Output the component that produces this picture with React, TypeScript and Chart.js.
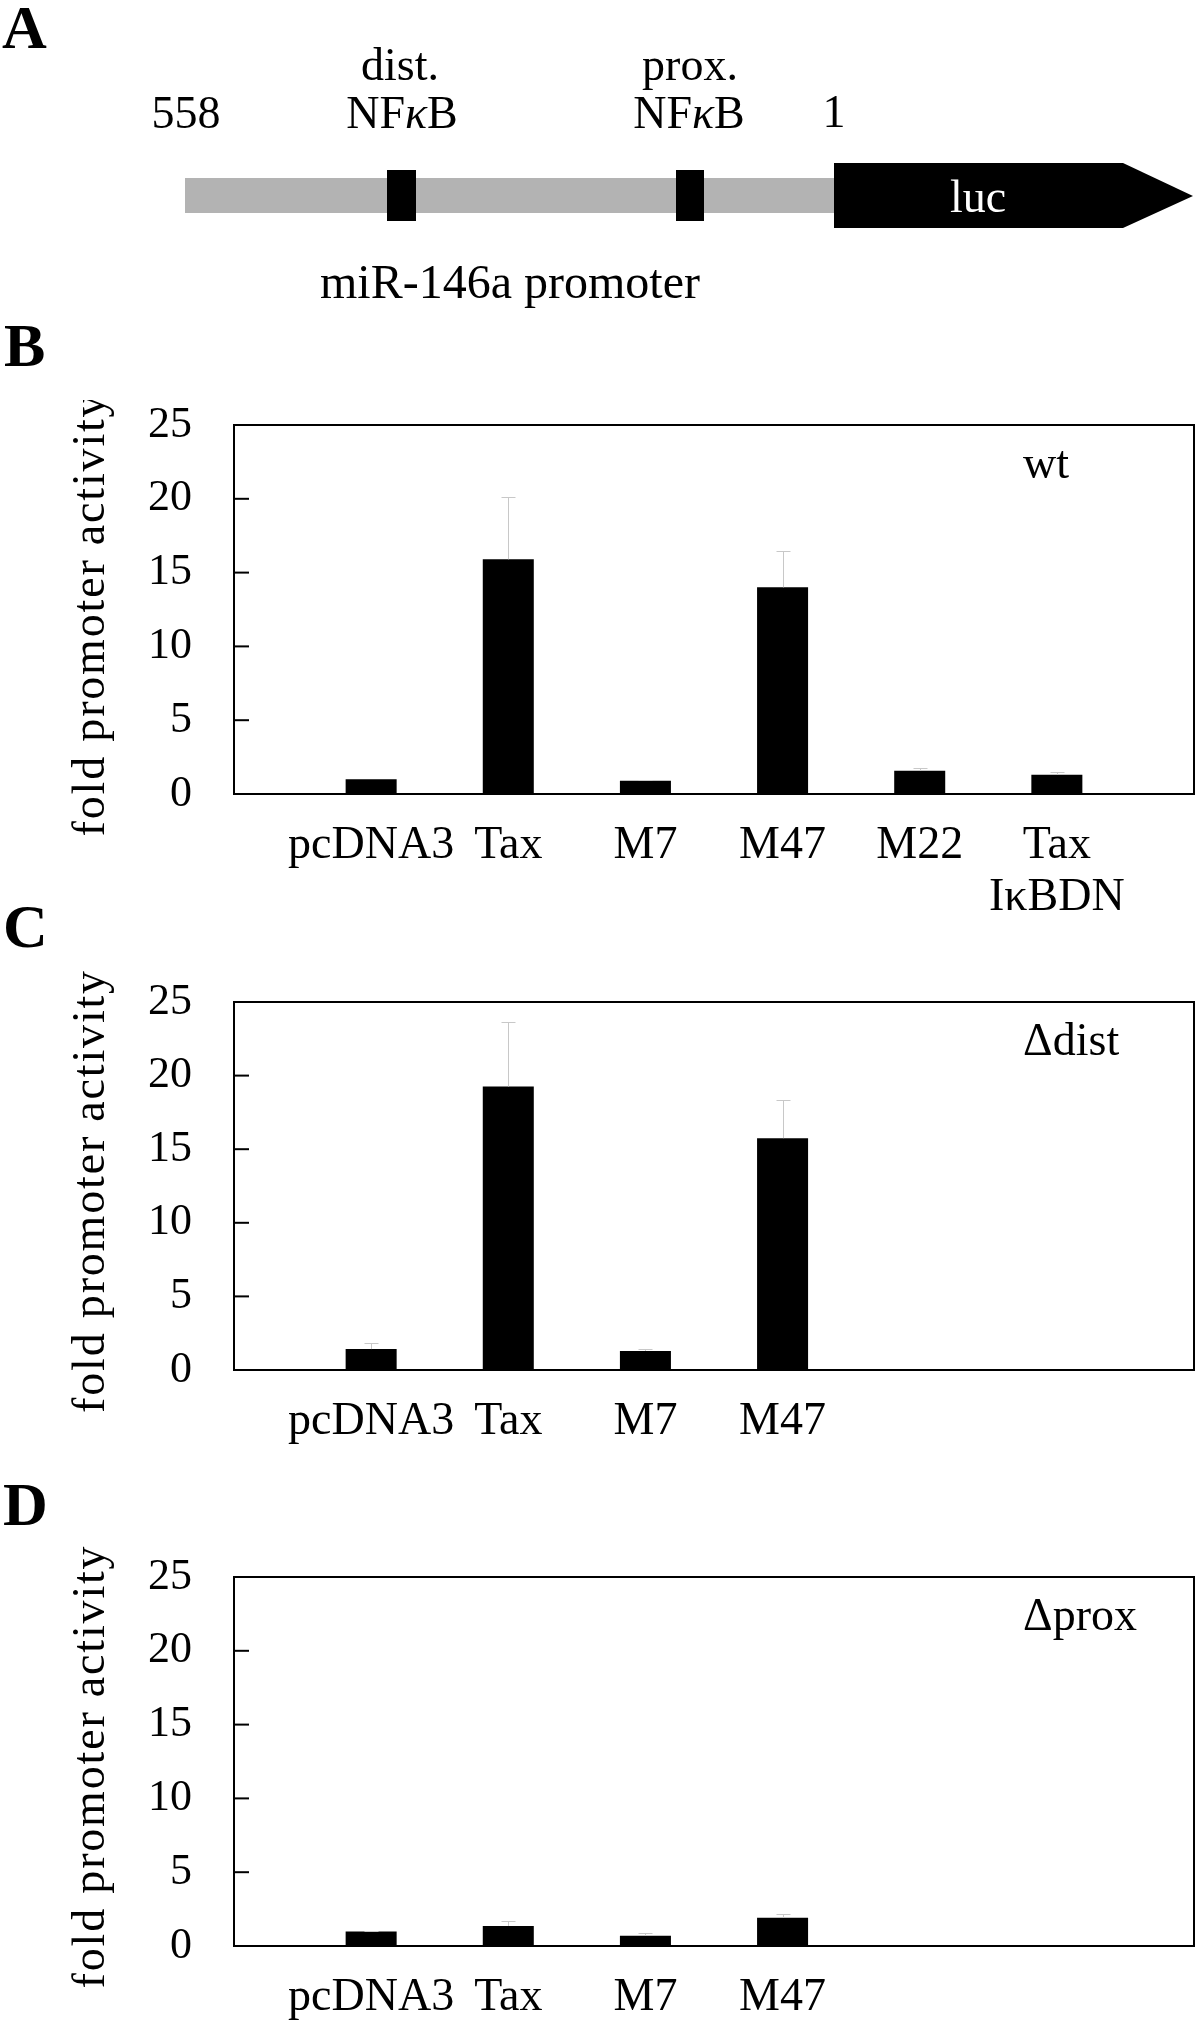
import React, { useEffect, useRef } from 'react';
import { Chart, registerables } from 'chart.js';

Chart.register(...registerables);

const FONT = '"Liberation Serif", "Times New Roman", serif';

// Panel B: wt promoter
const categoriesWt: (string | string[])[] = ['pcDNA3', 'Tax', 'M7', 'M47', 'M22', ['Tax', 'IκBDN']];
const valuesWt = [1.0, 15.9, 0.9, 14.0, 1.57, 1.3];
const errorsWt = [0, 4.2, 0.05, 2.45, 0.2, 0.2];

// Panel C: Δdist promoter
const categoriesDist: (string | string[])[] = ['pcDNA3', 'Tax', 'M7', 'M47'];
const valuesDist = [1.42, 19.26, 1.29, 15.75];
const errorsDist = [0.4, 4.4, 0.12, 2.58];

// Panel D: Δprox promoter
const categoriesProx: (string | string[])[] = ['pcDNA3', 'Tax', 'M7', 'M47'];
const valuesProx = [0.99, 1.36, 0.7, 1.92];
const errorsProx = [0.04, 0.35, 0.15, 0.26];

const yTickValues = [0, 5, 10, 15, 20, 25];
const yAxisTitle = 'fold promoter activity';
const SLOTS = 8; // one empty slot on the left, room for 6 categories, one empty slot at the right edge

type PanelProps = {
  top: number;
  height: number;
  padTop: number;
  axisHeight: number;
  categories: (string | string[])[];
  values: number[];
  errors: number[];
  note: string;
};

function BarPanel({ top, height, padTop, axisHeight, categories, values, errors, note }: PanelProps) {
  const ref = useRef<HTMLCanvasElement>(null);

  useEffect(() => {
    if (!ref.current) return;
    const labels: (string | string[])[] = ['', ...categories];
    while (labels.length < SLOTS) labels.push('');
    const data: (number | null)[] = [null, ...values];
    while (data.length < SLOTS) data.push(null);

    const decor = {
      id: 'panelDecor',
      afterDatasetsDraw(chart: any) {
        const { ctx, chartArea: a, scales } = chart;
        const x = scales.x;
        const y = scales.y;
        ctx.save();
        // error bars (upper only)
        ctx.strokeStyle = '#c8c8c8';
        ctx.lineWidth = 1;
        values.forEach((v, i) => {
          const e = errors[i];
          if (!e) return;
          const px = Math.round(x.getPixelForValue(i + 1)) + 0.5;
          const y0 = y.getPixelForValue(v);
          const y1 = Math.round(y.getPixelForValue(v + e)) + 0.5;
          ctx.beginPath();
          ctx.moveTo(px, y0);
          ctx.lineTo(px, y1);
          ctx.moveTo(px - 7, y1);
          ctx.lineTo(px + 7, y1);
          ctx.stroke();
        });
        // frame
        ctx.strokeStyle = '#000';
        ctx.lineWidth = 2;
        ctx.strokeRect(a.left, a.top, a.right - a.left, a.bottom - a.top);
        // inward ticks on the left axis
        yTickValues.forEach((t) => {
          const py = y.getPixelForValue(t);
          ctx.beginPath();
          ctx.moveTo(a.left, py);
          ctx.lineTo(a.left + 15, py);
          ctx.stroke();
        });
        // panel note
        ctx.fillStyle = '#000';
        ctx.font = `46px ${FONT}`;
        ctx.textAlign = 'left';
        ctx.textBaseline = 'alphabetic';
        ctx.fillText(note, a.left + (a.right - a.left) * 0.822, a.top + 53);
        // y axis title
        ctx.translate(104, (a.top + a.bottom) / 2 + 5);
        ctx.rotate(-Math.PI / 2);
        ctx.font = `46px ${FONT}`;
        const w0 = ctx.measureText(yAxisTitle).width;
        const target = 442;
        if (w0 < target) {
          (ctx as any).letterSpacing = `${(target - w0) / (yAxisTitle.length - 1)}px`;
        }
        ctx.textAlign = 'center';
        ctx.fillText(yAxisTitle, 0, 0);
        ctx.restore();
      },
    };

    const chart = new Chart(ref.current, {
      type: 'bar',
      data: {
        labels,
        datasets: [
          {
            data,
            backgroundColor: '#000',
            borderWidth: 0,
            barPercentage: 0.372,
            categoryPercentage: 1,
          },
        ],
      },
      options: {
        animation: false,
        responsive: false,
        events: [],
        layout: { padding: { top: padTop, right: 6, left: 0, bottom: 0 } },
        plugins: { legend: { display: false }, tooltip: { enabled: false } },
        scales: {
          x: {
            type: 'category',
            offset: false,
            grid: { display: false, drawTicks: false },
            border: { display: false },
            ticks: {
              autoSkip: false,
              maxRotation: 0,
              minRotation: 0,
              padding: 26,
              color: '#000',
              font: { family: FONT, size: 46, lineHeight: 52 / 46 },
            },
            afterFit: (s: any) => {
              s.height = axisHeight;
              s.paddingLeft = 0;
              s.paddingRight = 0;
              s.paddingTop = 0;
              s.paddingBottom = 0;
            },
          },
          y: {
            min: 0,
            max: 25,
            grid: { display: false, drawTicks: false },
            border: { display: false },
            ticks: {
              stepSize: 5,
              padding: 42,
              color: '#000',
              font: { family: FONT, size: 44, lineHeight: 1 },
            },
            afterFit: (s: any) => {
              s.width = 234;
              s.paddingTop = 0;
              s.paddingBottom = 0;
              s.paddingLeft = 0;
              s.paddingRight = 0;
            },
          },
        },
      } as any,
      plugins: [decor],
    });
    return () => chart.destroy();
  }, []);

  return (
    <canvas
      ref={ref}
      width={1200}
      height={height}
      style={{ position: 'absolute', left: 0, top, width: 1200, height }}
    />
  );
}

export default function App() {
  return (
    <div style={{ position: 'absolute', left: 0, top: 0, width: 1200, height: 2024, background: '#fff', overflow: 'hidden' }}>
      <BarPanel top={400} height={540} padTop={25} axisHeight={146} categories={categoriesWt} values={valuesWt} errors={errorsWt} note="wt" />
      <BarPanel top={960} height={520} padTop={42} axisHeight={110} categories={categoriesDist} values={valuesDist} errors={errorsDist} note="Δdist" />
      <BarPanel top={1540} height={484} padTop={37} axisHeight={78} categories={categoriesProx} values={valuesProx} errors={errorsProx} note="Δprox" />
      <svg
        width={1200}
        height={2024}
        style={{ position: 'absolute', left: 0, top: 0, pointerEvents: 'none' }}
        fontFamily={FONT}
      >
        <text x={2} y={48} fontSize={62} fontWeight="bold">A</text>
        <text x={4} y={366} fontSize={62} fontWeight="bold">B</text>
        <text x={3} y={947} fontSize={62} fontWeight="bold">C</text>
        <text x={3} y={1525} fontSize={62} fontWeight="bold">D</text>

        <text x={400} y={80} fontSize={46} textAnchor="middle">dist.</text>
        <text x={402} y={128} fontSize={46} textAnchor="middle">
          NF<tspan fontStyle="italic">κ</tspan>B
        </text>
        <text x={690} y={80} fontSize={46} textAnchor="middle">prox.</text>
        <text x={689} y={128} fontSize={46} textAnchor="middle">
          NF<tspan fontStyle="italic">κ</tspan>B
        </text>
        <text x={186} y={128} fontSize={46} textAnchor="middle">558</text>
        <text x={834} y={127} fontSize={46} textAnchor="middle">1</text>

        <rect x={185} y={178} width={649} height={35} fill="#b3b3b3" />
        <rect x={387} y={170} width={29} height={51} fill="#000" />
        <rect x={676} y={170} width={28} height={51} fill="#000" />
        <polygon points="834,163 1123,163 1193,196 1123,228 834,228" fill="#000" />
        <text x={978} y={212} fontSize={46} textAnchor="middle" fill="#fff">luc</text>

        <text x={510} y={298} fontSize={48} textAnchor="middle">miR-146a promoter</text>
      </svg>
    </div>
  );
}
